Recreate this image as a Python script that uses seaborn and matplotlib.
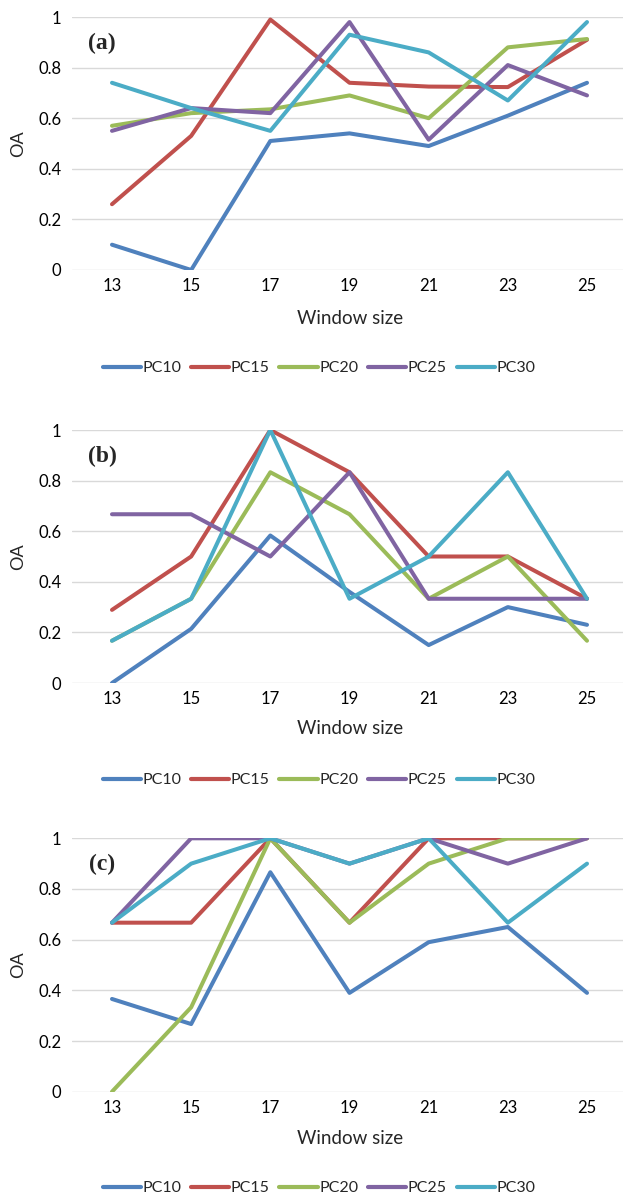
import numpy as np
import pandas as pd
import matplotlib
matplotlib.use("Agg")
import matplotlib.pyplot as plt
import seaborn as sns

window_sizes = [13, 15, 17, 19, 21, 23, 25]
series_names = ["PC10", "PC15", "PC20", "PC25", "PC30"]

a_pc10 = [0.10, 0.00, 0.51, 0.54, 0.49, 0.61, 0.74]
a_pc15 = [0.26, 0.53, 0.99, 0.74, 0.725, 0.723, 0.91]
a_pc20 = [0.57, 0.62, 0.635, 0.69, 0.60, 0.88, 0.913]
a_pc25 = [0.55, 0.64, 0.62, 0.98, 0.515, 0.81, 0.69]
a_pc30 = [0.74, 0.64, 0.55, 0.93, 0.86, 0.67, 0.98]

b_pc10 = [0.00, 0.214, 0.583, 0.36, 0.15, 0.30, 0.23]
b_pc15 = [0.289, 0.50, 1.00, 0.833, 0.50, 0.50, 0.333]
b_pc20 = [0.167, 0.333, 0.833, 0.667, 0.333, 0.50, 0.167]
b_pc25 = [0.667, 0.667, 0.50, 0.833, 0.333, 0.333, 0.333]
b_pc30 = [0.167, 0.333, 1.00, 0.333, 0.50, 0.833, 0.333]

c_pc10 = [0.366, 0.267, 0.866, 0.39, 0.59, 0.65, 0.39]
c_pc15 = [0.667, 0.667, 1.00, 0.667, 1.00, 1.00, 1.00]
c_pc20 = [0.00, 0.333, 1.00, 0.667, 0.90, 1.00, 1.00]
c_pc25 = [0.667, 1.00, 1.00, 0.90, 1.00, 0.90, 1.00]
c_pc30 = [0.667, 0.90, 1.00, 0.90, 1.00, 0.667, 0.90]

y_ticks = [0, 0.2, 0.4, 0.6, 0.8, 1]
y_tick_labels = ["0", "0.2", "0.4", "0.6", "0.8", "1"]
panel_labels = ["(a)", "(b)", "(c)"]

panels = [
    [a_pc10, a_pc15, a_pc20, a_pc25, a_pc30],
    [b_pc10, b_pc15, b_pc20, b_pc25, b_pc30],
    [c_pc10, c_pc15, c_pc20, c_pc25, c_pc30],
]

colors = ["#4F81BD", "#C0504D", "#9BBB59", "#8064A2", "#4BACC6"]

sns.set_theme(style="white")
plt.rcParams["font.family"] = ["Lato", "DejaVu Sans"]

W, H = 623, 1199
fig = plt.figure(figsize=(W / 100, H / 100), dpi=100)

# pixel geometry: (top of y=1, y=0 baseline, window-size label y, legend y)
geo = [(17, 270, 319, 368), (430, 683, 729, 780), (838.3, 1091.7, 1139, 1188)]
x_left, x_right = 72.4, 626.6

for i, (series, (ytop, ybot, xl_y, leg_y)) in enumerate(zip(panels, geo)):
    ax = fig.add_axes([x_left / W, 1 - ybot / H, (x_right - x_left) / W, (ybot - ytop) / H])
    df = pd.DataFrame({
        "Window size": np.tile(window_sizes, len(series_names)),
        "OA": np.concatenate(series),
        "Series": np.repeat(series_names, len(window_sizes)),
    })
    sns.lineplot(data=df, x="Window size", y="OA", hue="Series", palette=colors,
                 linewidth=2.9, ax=ax, sort=False, legend=True)
    ax.set_xlim(12, 26)
    ax.set_ylim(0, 1)
    ax.set_xticks(window_sizes)
    ax.set_xticklabels([str(w) for w in window_sizes])
    ax.set_yticks(y_ticks)
    ax.set_yticklabels(y_tick_labels)
    ax.grid(axis="y", color="#D9D9D9", linewidth=1.0)
    ax.set_axisbelow(True)
    for s in ax.spines.values():
        s.set_visible(False)
    ax.tick_params(axis="both", length=0, labelsize=12, colors="#000000")
    ax.tick_params(axis="y", pad=8)
    ax.tick_params(axis="x", pad=6)
    ax.set_xlabel("")
    ax.set_ylabel("OA", fontsize=13)
    ax.yaxis.set_label_coords((18 - x_left) / (x_right - x_left), 0.5)
    ax.yaxis.label.set_verticalalignment("center")
    fig.text(350 / W, 1 - xl_y / H, "Window size", ha="center", va="center", fontsize=13.5)
    fig.text(102 / W, 1 - (43 + ytop - 17) / H, panel_labels[i], ha="center", va="center",
             fontsize=17, fontweight="bold", family="Liberation Serif")
    handles, labels = ax.get_legend_handles_labels()
    ax.legend_.remove()
    leg = fig.legend(handles, labels, loc="center", bbox_to_anchor=(319 / W, 1 - leg_y / H),
                     ncol=5, frameon=False, fontsize=11.5, handlelength=2.4,
                     handletextpad=0.1, columnspacing=0.6)
    for h in leg.get_lines():
        h.set_linewidth(3)

fig.savefig("out.png", dpi=100)
